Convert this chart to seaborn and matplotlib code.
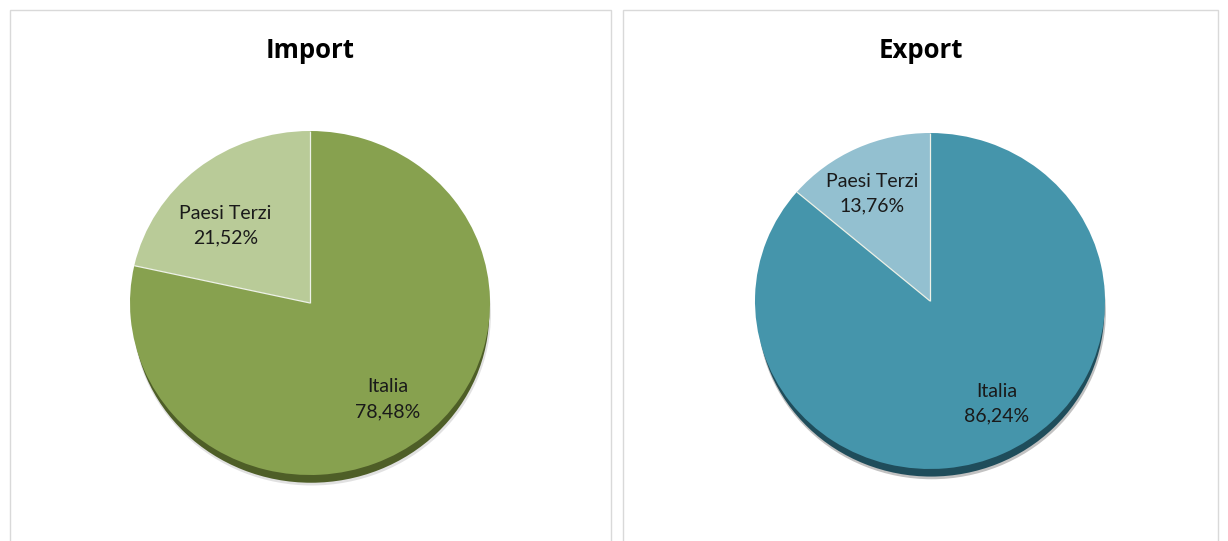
import numpy as np
import matplotlib
matplotlib.use("Agg")
import matplotlib.pyplot as plt
from matplotlib.patches import Rectangle
import seaborn as sns

# Trade shares (%) by partner area
categories = ["Italia", "Paesi Terzi"]
import_share = [78.48, 21.52]
export_share = [86.24, 13.76]
titles = ["Import", "Export"]

sns.set_theme(style="white")
plt.rcParams["font.family"] = ["Lato", "DejaVu Sans"]

W, H = 1228, 541
fig = plt.figure(figsize=(W / 100, H / 100), dpi=100)
fig.patch.set_facecolor("white")

# Layout of each panel in pixels: frame span, pie centre and radii, label anchors
panels = [
    dict(values=import_share, title=titles[0], frame=(10, 611),
         cx=310, cy=303, rx=180, ry=172,
         colors=["#87a14f", "#b9cb98"], shadow="#4e5e27", halo="#d5d5d5",
         anchors=[(0.43, -0.56), (-0.47, 0.45)]),
    dict(values=export_share, title=titles[1], frame=(623, 1218),
         cx=930, cy=301, rx=175, ry=168,
         colors=["#4595ab", "#93c0d0"], shadow="#1f4d5b", halo="#a8a8a8",
         anchors=[(0.38, -0.61), (-0.33, 0.64)]),
]


def pct_label(v):
    return f"{v:.2f}".replace(".", ",") + "%"


for p in panels:
    x0, x1 = p["frame"]
    # light grey chart frame (runs past the bottom edge)
    fig.add_artist(Rectangle((x0 / W, -0.02), (x1 - x0) / W, (H - 10) / H + 0.02,
                             transform=fig.transFigure, fill=False,
                             edgecolor="#d9d9d9", linewidth=1.0))
    fig.text((x0 + x1) / 2 / W, (H - 51) / H, p["title"], ha="center", va="center",
             fontsize=18.5, fontweight="bold", color="black",
             family=["Open Sans", "DejaVu Sans"])

    cx, cy, rx, ry = p["cx"], p["cy"], p["rx"], p["ry"]
    ax = fig.add_axes([(cx - rx) / W, (H - cy - ry) / H, 2 * rx / W, 2 * ry / H])
    ax.axis("off")

    # soft halo and dark rim beneath the disc
    ax.pie([1], colors=[p["halo"]], radius=0.995, center=(0.01, -0.066),
           wedgeprops=dict(linewidth=0, zorder=0.3, alpha=0.7, clip_on=False))
    ax.pie([1], colors=[p["shadow"]], radius=0.99, center=(0.006, -0.055),
           wedgeprops=dict(linewidth=0, zorder=0.5, clip_on=False))
    # slices, clockwise from 12 o'clock
    ax.pie(p["values"], colors=p["colors"], startangle=90, counterclock=False,
           radius=1.0, center=(0, 0),
           wedgeprops=dict(linewidth=0, zorder=1, clip_on=False))

    # thin light separators between slices
    bounds = 90 - 360 * np.cumsum([0] + list(p["values"][:-1])) / sum(p["values"])
    for a in np.deg2rad(bounds):
        ax.plot([0, np.cos(a)], [0, np.sin(a)], color="#eef2e8", lw=0.9,
                zorder=2, solid_capstyle="butt", clip_on=False)

    for cat, v, (tx, ty) in zip(categories, p["values"], p["anchors"]):
        ax.text(tx, ty, f"{cat}\n{pct_label(v)}", ha="center", va="center",
                fontsize=14, linespacing=1.55, color="#1a1a1a", zorder=5)

    ax.set_aspect("auto")
    ax.set_xlim(-1, 1)
    ax.set_ylim(-1, 1)

fig.savefig("out.png", dpi=100, facecolor="white")
